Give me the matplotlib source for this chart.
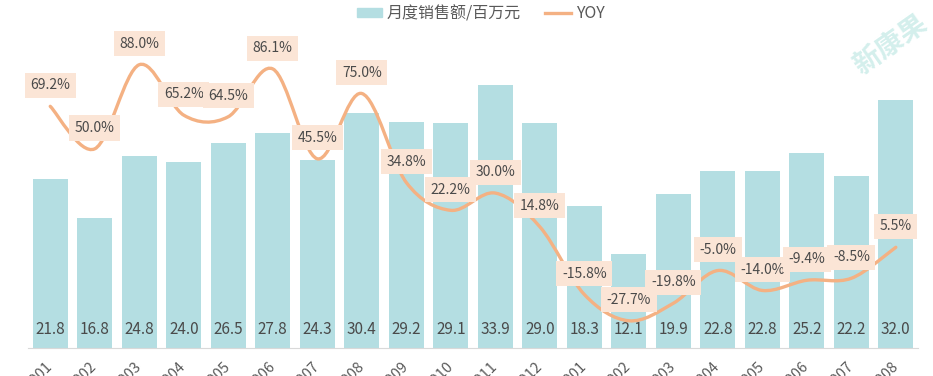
import numpy as np
import matplotlib
matplotlib.use("Agg")
import matplotlib.pyplot as plt
from matplotlib.path import Path
from matplotlib.patches import PathPatch, Patch
from matplotlib.lines import Line2D

plt.rcParams['font.family'] = ['Noto Sans CJK SC', 'DejaVu Sans']

# data
months = ["201901", "201902", "201903", "201904", "201905", "201906", "201907",
          "201908", "201909", "201910", "201911", "201912", "202001", "202002",
          "202003", "202004", "202005", "202006", "202007", "202008"]
sales = [21.8, 16.8, 24.8, 24.0, 26.5, 27.8, 24.3, 30.4, 29.2, 29.1,
         33.9, 29.0, 18.3, 12.1, 19.9, 22.8, 22.8, 25.2, 22.2, 32.0]
yoy = [69.2, 50.0, 88.0, 65.2, 64.5, 86.1, 45.5, 75.0, 34.8, 22.2,
       30.0, 14.8, -15.8, -27.7, -19.8, -5.0, -14.0, -9.4, -8.5, 5.5]

BAR_C = "#B4DEE2"
LINE_C = "#F4B183"
BOX_C = "#FBE5D6"
TXT_C = "#4A4A4A"

fig = plt.figure(figsize=(9.33, 3.76), dpi=100)
ax = fig.add_axes([0.030, 0.0745, 0.954, 0.824])
x = np.arange(len(months))

ax.bar(x, sales, width=0.79, color=BAR_C, zorder=1)
ax.set_xlim(-0.5, len(months) - 0.5)
ax.set_ylim(0, 40)
ax.set_yticks([])
ax.set_xticks(x)
ax.set_xticklabels(months, rotation=45, ha='right', va='center',
                   rotation_mode='anchor', fontsize=10.5, color="#595959")
ax.tick_params(axis='x', length=0, pad=12)
for s in ['top', 'left', 'right']:
    ax.spines[s].set_visible(False)
ax.spines['bottom'].set_color("#D9D9D9")

for i, v in enumerate(sales):
    ax.annotate(f"{v:.1f}", (i, 0), xytext=(0, 13), textcoords='offset points',
                ha='center', va='center', fontsize=11, color=TXT_C, zorder=3)

# secondary axis for YOY, smoothed line (catmull-rom -> bezier)
ax2 = ax.twinx()
ax2.set_ylim(-40, 100)
ax2.set_yticks([])
for s in ax2.spines.values():
    s.set_visible(False)

pts = np.column_stack([x, yoy]).astype(float)
verts = [pts[0]]
codes = [Path.MOVETO]
n = len(pts)
for i in range(n - 1):
    p0 = pts[max(i - 1, 0)]
    p1 = pts[i]
    p2 = pts[i + 1]
    p3 = pts[min(i + 2, n - 1)]
    verts += [p1 + (p2 - p0) / 6, p2 - (p3 - p1) / 6, p2]
    codes += [Path.CURVE4] * 3
ax2.add_patch(PathPatch(Path(verts, codes), facecolor='none', edgecolor=LINE_C,
                        lw=2.4, capstyle='round', zorder=2))

for i, v in enumerate(yoy):
    ax2.annotate(f"{v:.1f}%", (i, v), xytext=(0, 15), textcoords='offset points',
                 ha='center', va='center', fontsize=10, color=TXT_C, zorder=4,
                 bbox=dict(boxstyle='square,pad=0.4', fc=BOX_C, ec='none'))

handles = [Patch(color=BAR_C), Line2D([0], [0], color=LINE_C, lw=2.4)]
leg = fig.legend(handles, ["月度销售额/百万元", "YOY"], loc='center',
                 bbox_to_anchor=(0.515, 0.963), ncol=2, frameon=False,
                 fontsize=11.5, handlelength=1.6, handleheight=0.45,
                 columnspacing=1.5, handletextpad=0.3)
for t in leg.get_texts():
    t.set_color("#595959")

# watermark
fig.text(0.955, 0.88, "新康果", rotation=35, fontsize=20, color="#9FDCD6",
         alpha=0.45, ha='center', va='center', fontweight='bold')

fig.savefig("out.png", dpi=100)
